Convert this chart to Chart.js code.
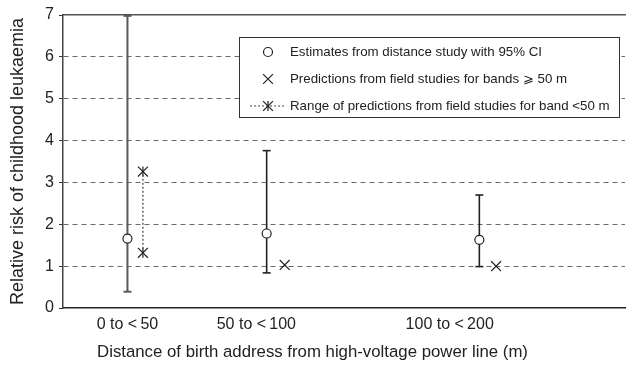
<!DOCTYPE html>
<html>
<head>
<meta charset="utf-8">
<script src="https://cdn.jsdelivr.net/npm/chart.js@4/dist/chart.umd.min.js"></script>
<style>
  html, body { margin: 0; padding: 0; background: #fff; }
  #wrap { width: 626px; height: 367px; position: relative; }
</style>
</head>
<body>
<div id="wrap"><canvas id="c" width="626" height="367"></canvas></div>
<script>
// ---- data ----
const categories = ['0 to <\u200950', '50 to <\u2009100', '100 to <\u2009200'];
const categoryPos = [25, 75, 150];            // band mid-points (m) where the labels sit
const estimateX = [25, 79, 161.5];            // position of distance-study estimates
const estimate = [1.66, 1.78, 1.63];
const ciLower = [0.39, 0.84, 0.99];
const ciUpper = [6.98, 3.76, 2.70];
const predictionX = [86, 168];                // field-study predictions, bands >= 50 m
const prediction = [1.03, 1.00];
const rangeX = [31, 31];                      // range of predictions, band < 50 m
const rangeValues = [1.32, 3.26];
const yTicks = [0, 1, 2, 3, 4, 5, 6, 7];

const legendLabels = [
  'Estimates from distance study with 95% CI',
  'Predictions from field studies for bands \u2a7e 50 m',
  'Range of predictions from field studies for band <50 m'
];

const FONT = "'Liberation Sans', Arial, Helvetica, sans-serif";
const INK = '#222';

const datasets = [];
// estimates (circles) - first so they are drawn on top
datasets.push({
  type: 'scatter',
  data: estimateX.map((x, i) => ({ x, y: estimate[i] })),
  pointStyle: 'circle', pointRadius: 4.5,
  pointBackgroundColor: '#fff', pointBorderColor: INK, pointBorderWidth: 1.2
});
// predictions for bands >= 50 m
datasets.push({
  type: 'scatter',
  data: predictionX.map((x, i) => ({ x, y: prediction[i] })),
  pointStyle: 'crossRot', pointRadius: 7,
  pointBorderColor: INK, pointBorderWidth: 1.2
});
// range for band < 50 m: crosses + vertical strokes + dotted line
datasets.push({
  type: 'line',
  data: rangeX.map((x, i) => ({ x, y: rangeValues[i] })),
  borderColor: '#444', borderWidth: 1.2, borderDash: [2, 2],
  pointStyle: 'crossRot', pointRadius: 7,
  pointBorderColor: INK, pointBorderWidth: 1.2, fill: false
});
datasets.push({
  type: 'scatter',
  data: rangeX.map((x, i) => ({ x, y: rangeValues[i] })),
  pointStyle: 'line', pointRotation: 90, pointRadius: 5,
  pointBorderColor: INK, pointBorderWidth: 1.2
});
// confidence intervals
const ciColors = ['#5a5a5a', '#222', '#222'];
const ciWidths = [2, 1.6, 1.6];
estimateX.forEach((x, i) => {
  datasets.push({
    type: 'line',
    data: [{ x, y: ciLower[i] }, { x, y: ciUpper[i] }],
    borderColor: ciColors[i], borderWidth: ciWidths[i],
    pointStyle: 'line', pointRadius: 4,
    pointBorderColor: ciColors[i], pointBorderWidth: ciWidths[i], fill: false
  });
});

const boxLegend = {
  id: 'boxLegend',
  afterDraw(chart) {
    const ctx = chart.ctx;
    const H = Chart.helpers;
    ctx.save();
    ctx.fillStyle = '#fff';
    ctx.fillRect(239.5, 37.5, 380, 80);
    ctx.strokeStyle = '#333';
    ctx.lineWidth = 1;
    ctx.strokeRect(239.5, 37.5, 380, 80);
    const rows = [52, 79, 106];
    const sx = 268;
    ctx.fillStyle = '#fff'; ctx.strokeStyle = INK; ctx.lineWidth = 1.2;
    H.drawPoint(ctx, { pointStyle: 'circle', radius: 4.5, rotation: 0, borderWidth: 1.2 }, sx, rows[0]);
    H.drawPoint(ctx, { pointStyle: 'crossRot', radius: 7, rotation: 0, borderWidth: 1.2 }, sx, rows[1]);
    ctx.save();
    ctx.setLineDash([2, 2]);
    ctx.strokeStyle = '#444'; ctx.lineWidth = 1.2;
    ctx.beginPath(); ctx.moveTo(250, rows[2]); ctx.lineTo(286, rows[2]); ctx.stroke();
    ctx.restore();
    ctx.strokeStyle = INK; ctx.lineWidth = 1.2;
    H.drawPoint(ctx, { pointStyle: 'crossRot', radius: 7, rotation: 0, borderWidth: 1.2 }, sx, rows[2]);
    H.drawPoint(ctx, { pointStyle: 'line', radius: 5, rotation: 90, borderWidth: 1.2 }, sx, rows[2]);
    ctx.fillStyle = INK;
    ctx.font = '13.3px ' + FONT;
    ctx.textBaseline = 'middle';
    ctx.textAlign = 'left';
    legendLabels.forEach((t, i) => ctx.fillText(t, 290, rows[i] + 0.5));
    ctx.restore();
  }
};

const noPadX = (h) => (s) => { s.height = h; s.paddingLeft = 0; s.paddingRight = 0; };

new Chart(document.getElementById('c'), {
  data: { datasets },
  plugins: [boxLegend],
  options: {
    responsive: false,
    animation: false,
    layout: { autoPadding: false, padding: { top: 15, right: 1, left: 0, bottom: 0 } },
    plugins: {
      legend: { display: false },
      tooltip: { enabled: false },
      title: {
        display: true, position: 'bottom',
        text: 'Distance of birth address from high-voltage power line (m)',
        font: { size: 16.8, family: FONT, weight: 'normal', lineHeight: 1.2 }, color: INK,
        padding: { top: 4, bottom: 5 }
      }
    },
    scales: {
      x: {
        type: 'linear', position: 'bottom', min: 0, max: 218,
        afterBuildTicks: (s) => { s.ticks = categoryPos.map(v => ({ value: v })); },
        afterFit: noPadX(29.8),
        ticks: {
          callback: (v) => categories[categoryPos.indexOf(v)],
          font: { size: 16, family: FONT }, color: INK, padding: 7, maxRotation: 0, autoSkip: false
        },
        grid: { display: false, drawTicks: false },
        border: { display: true, color: '#222', width: 1.5 }
      },
      xTop: {
        type: 'linear', position: 'top', min: 0, max: 218,
        afterFit: noPadX(0),
        ticks: { display: false },
        grid: { display: false, drawTicks: false },
        border: { display: true, color: '#555', width: 1.5 }
      },
      y: {
        type: 'linear', min: 0, max: 7,
        afterBuildTicks: (s) => { s.ticks = yTicks.map(v => ({ value: v })); },
        afterFit: (s) => { s.width = 63; s.paddingTop = 0; s.paddingBottom = 0; },
        ticks: { font: { size: 16, family: FONT }, color: INK, padding: 5 },
        grid: {
          color: (c) => (c.tick && (c.tick.value === 0 || c.tick.value === 7)) ? 'rgba(0,0,0,0)' : '#6a6a6a',
          lineWidth: 1, drawTicks: true, tickLength: 4,
          tickColor: '#333'
        },
        border: { display: true, color: '#444', width: 1.5, dash: [5, 4] },
        title: {
          display: true, text: 'Relative risk of childhood leukaemia',
          font: { size: 18, family: FONT }, color: INK, padding: { top: 7, bottom: 0 }
        }
      }
    }
  }
});
</script>
</body>
</html>
